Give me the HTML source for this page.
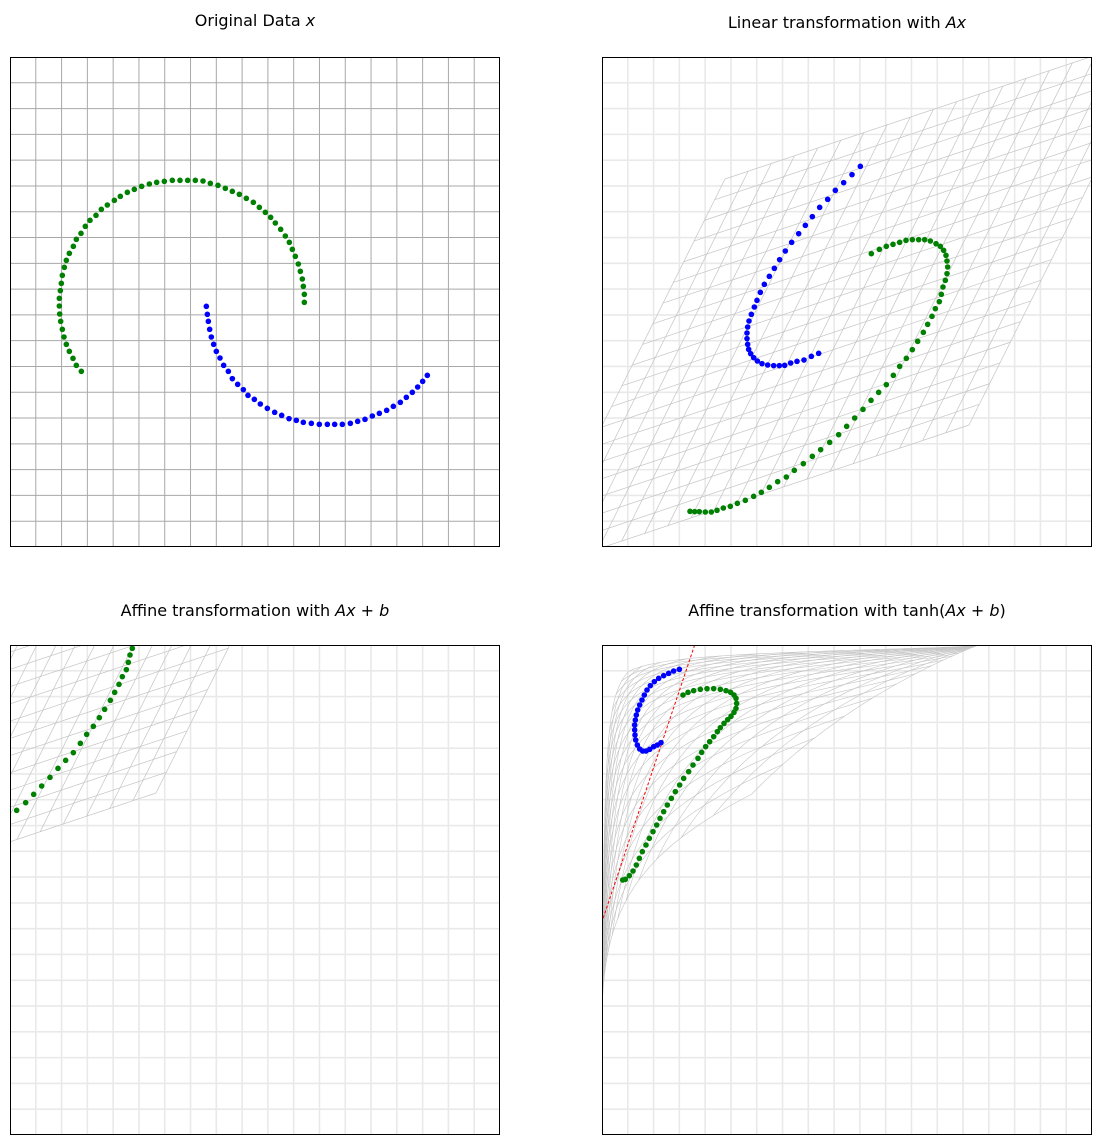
<!DOCTYPE html>
<html><head><meta charset="utf-8"><style>
body{margin:0;background:#fff;width:1101px;height:1145px;overflow:hidden}
svg{display:block}
text{font-family:"DejaVu Sans","Liberation Sans",sans-serif;font-size:16px;fill:#000}
</style></head><body>
<svg id="fig" width="1101" height="1145" xmlns="http://www.w3.org/2000/svg">
<defs>
<clipPath id="c1"><rect x="10" y="57" width="490" height="490"/></clipPath>
<clipPath id="c2"><rect x="602" y="57" width="490" height="490"/></clipPath>
<clipPath id="c3"><rect x="10" y="645" width="490" height="490"/></clipPath>
<clipPath id="c4"><rect x="602" y="645" width="490" height="490"/></clipPath>
</defs>
<text x="255" y="26" text-anchor="middle">Original Data <tspan font-style="italic">x</tspan></text>
<text x="847" y="28" text-anchor="middle">Linear transformation with <tspan font-style="italic">Ax</tspan></text>
<text x="255" y="616" text-anchor="middle">Affine transformation with <tspan font-style="italic">Ax</tspan> + <tspan font-style="italic">b</tspan></text>
<text x="847" y="616" text-anchor="middle">Affine transformation with tanh(<tspan font-style="italic">Ax</tspan> + <tspan font-style="italic">b</tspan>)</text>
</svg>
<script>
// values in axis units (0..1470 across each panel, y measured downward)
const origGreenX=[883,883,880,877,871,865,856,847,838,826,812,796,782,766,748,730,709,688,667,646,624,601,579,556,533,510,487,463,440,418,395,373,352,331,313,292,274,258,240,226,213,199,190,178,169,163,157,154,151,148,148,149,152,157,162,169,178,189,199,214];
const origGreenY=[736,712,688,666,643,621,598,577,556,537,517,498,481,466,451,436,424,412,403,394,385,379,372,370,370,370,370,373,376,381,388,397,406,418,430,444,457,475,490,508,529,547,568,589,610,631,655,679,701,724,747,771,793,817,840,862,883,904,925,943];
const origBlueX=[589,592,595,599,604,611,619,630,641,655,667,683,700,714,733,751,772,794,815,837,859,880,904,928,952,974,997,1021,1043,1065,1087,1108,1130,1150,1171,1189,1207,1223,1238,1252];
const origBlueY=[748,772,793,817,840,862,883,903,925,943,965,982,998,1015,1027,1041,1054,1066,1075,1085,1090,1096,1099,1102,1102,1102,1102,1099,1093,1087,1077,1069,1060,1048,1036,1021,1006,990,973,955];
const linGreenX=[808,832,853,873,893,912,931,950,968,985,1002,1015,1025,1032,1035,1037,1035,1030,1023,1018,1012,1000,990,977,964,947,931,913,893,874,853,830,807,783,758,734,710,683,656,631,604,577,553,527,502,478,455,430,406,385,364,345,328,310,292,278,264];
const linGreenY=[590,577,568,562,556,550,548,548,548,552,560,568,580,595,612,630,650,670,690,712,734,755,778,802,826,853,878,904,928,955,983,1006,1030,1057,1083,1108,1133,1156,1178,1198,1220,1240,1260,1274,1291,1306,1318,1330,1339,1348,1353,1360,1365,1365,1364,1364,1363];
const linBlueX=[775,750,725,700,677,653,631,610,590,569,550,533,517,502,487,475,465,457,448,441,437,435,435,437,440,446,455,466,480,497,515,532,548,566,585,606,628,650];
const linBlueY=[328,353,377,400,427,451,479,505,530,556,582,608,634,658,682,706,730,750,772,792,810,828,845,862,877,890,902,912,920,924,926,926,925,918,913,909,898,889];
const biasB=[-663,-660];
const tanhGreenX=[243,258,275,295,315,335,355,372,386,396,402,404,402,396,387,377,366,355,346,335,323,311,299,288,273,260,245,233,220,208,196,185,174,164,153,142,132,121,112,103,93,82,70,62];
const tanhGreenY=[150,142,137,133,131,131,133,137,142,150,160,175,190,202,214,224,235,248,260,275,290,305,322,340,360,380,400,420,440,460,480,500,520,540,560,580,600,620,640,660,678,692,703,705];
const tanhBlueX=[232,215,200,185,170,157,145,135,127,120,113,107,103,100,98,98,99,101,106,113,122,132,143,155,166,177];
const tanhBlueY=[73,78,85,92,100,110,122,135,150,165,180,195,210,225,240,255,270,285,300,312,318,318,313,305,300,293];
const boundaryX=[278,0];
const boundaryY=[0,830];
const gridTL=[369,366], gridTR=[1689,-75], gridBL=[-219,1545];
const tanhP=[-1.29,4.29,-3.21], tanhQ=[1.29,2.21,-3.29];

const NS="http://www.w3.org/2000/svg";
const svg=document.getElementById('fig');
const panels=[{x:10,y:57},{x:602,y:57},{x:10,y:645},{x:602,y:645}];
const DOM=1470,W=490;
function sx(p,v){return p.x+v*W/DOM}
function sy(p,v){return p.y+v*W/DOM}
function mk(tag,attrs,parent){const e=document.createElementNS(NS,tag);for(const k in attrs)e.setAttribute(k,attrs[k]);(parent||svg).appendChild(e);return e}

panels.forEach((p,i)=>{
  const g=mk('g',{'clip-path':`url(#c${i+1})`});
  
  
  for(let k=1;k<19;k++){
    const v=k*DOM/19;
    const col=i===0?'#a8a8a8':'#e9e9e9', sw=i===0?1:1.6;
    const l1=mk('line',{x1:sx(p,v),x2:sx(p,v),y1:p.y,y2:p.y+W,stroke:col,'stroke-width':sw},g);
    
    
    const l2=mk('line',{y1:sy(p,v),y2:sy(p,v),x1:p.x,x2:p.x+W,stroke:col,'stroke-width':sw},g);
    
    
  }
  p.g=g;
});

// warped grids for panels 2 & 3 (linear / affine)
function paraGrid(p,off){
  const N=19;
  for(let k=0;k<=N;k++){
    const t=k/N;
    const ax=gridTL[0]+(gridTR[0]-gridTL[0])*t+off[0], ay=gridTL[1]+(gridTR[1]-gridTL[1])*t+off[1];
    const bx=ax+(gridBL[0]-gridTL[0]), by=ay+(gridBL[1]-gridTL[1]);
    const l=mk('line',{x1:sx(p,ax),y1:sy(p,ay),x2:sx(p,bx),y2:sy(p,by),stroke:'#c4c4c4','stroke-width':0.7},p.g);
    
    
    const cx=gridTL[0]+(gridBL[0]-gridTL[0])*t+off[0], cy=gridTL[1]+(gridBL[1]-gridTL[1])*t+off[1];
    const dx=cx+(gridTR[0]-gridTL[0]), dy=cy+(gridTR[1]-gridTL[1]);
    const m=mk('line',{x1:sx(p,cx),y1:sy(p,cy),x2:sx(p,dx),y2:sy(p,dy),stroke:'#c4c4c4','stroke-width':0.7},p.g);
    
    
  }
}
paraGrid(panels[1],[0,0]);
paraGrid(panels[2],biasB);

// tanh-warped grid panel 4
(function(){
  const p=panels[3],N=19,S=40;
  function pt(u,v){const a=tanhP[0]+tanhP[1]*u+tanhP[2]*v, b=tanhQ[0]+tanhQ[1]*u+tanhQ[2]*v;
    return [sx(p,565*(Math.tanh(a)+1)), sy(p,565*(1-Math.tanh(b)))];}
  for(let k=0;k<=N;k++){
    const t=k/N; let d1='',d2='';
    for(let s=0;s<=S;s++){const r=s/S;
      const a=pt(t,r), b=pt(r,t);
      d1+=(s?'L':'M')+a[0].toFixed(2)+' '+a[1].toFixed(2);
      d2+=(s?'L':'M')+b[0].toFixed(2)+' '+b[1].toFixed(2);}
    const l=mk('path',{d:d1,fill:'none',stroke:'#c4c4c4','stroke-width':0.6},p.g);
    
    
    const m=mk('path',{d:d2,fill:'none',stroke:'#c4c4c4','stroke-width':0.6},p.g);
    
    
  }
  const rl=mk('line',{x1:sx(p,boundaryX[0]),y1:sy(p,boundaryY[0]),x2:sx(p,boundaryX[1]),y2:sy(p,boundaryY[1]),stroke:'#ff0000','stroke-width':1,'stroke-dasharray':'3,2'},p.g);
  
  
})();

function dots(p,xs,ys,color,name,off){
  off=off||[0,0];
  xs.forEach((x,i)=>{
    const c=mk('circle',{cx:sx(p,x+off[0]),cy:sy(p,ys[i]+off[1]),r:2.8,fill:color},p.g);
    
    
  });
}
dots(panels[0],origGreenX,origGreenY,'#008000','green-point');
dots(panels[0],origBlueX,origBlueY,'#0000ff','blue-point');
dots(panels[1],linGreenX,linGreenY,'#008000','green-point');
dots(panels[1],linBlueX,linBlueY,'#0000ff','blue-point');
dots(panels[2],linGreenX,linGreenY,'#008000','green-point',biasB);
dots(panels[2],linBlueX,linBlueY,'#0000ff','blue-point',biasB);
dots(panels[3],tanhGreenX,tanhGreenY,'#008000','green-point');
dots(panels[3],tanhBlueX,tanhBlueY,'#0000ff','blue-point');

panels.forEach((p,i)=>{
  const r=mk('rect',{x:p.x+0.5,y:p.y+0.5,width:W-1,height:W-1,fill:'none',stroke:'#000','stroke-width':1});
  
  
});
</script>
</body></html>
